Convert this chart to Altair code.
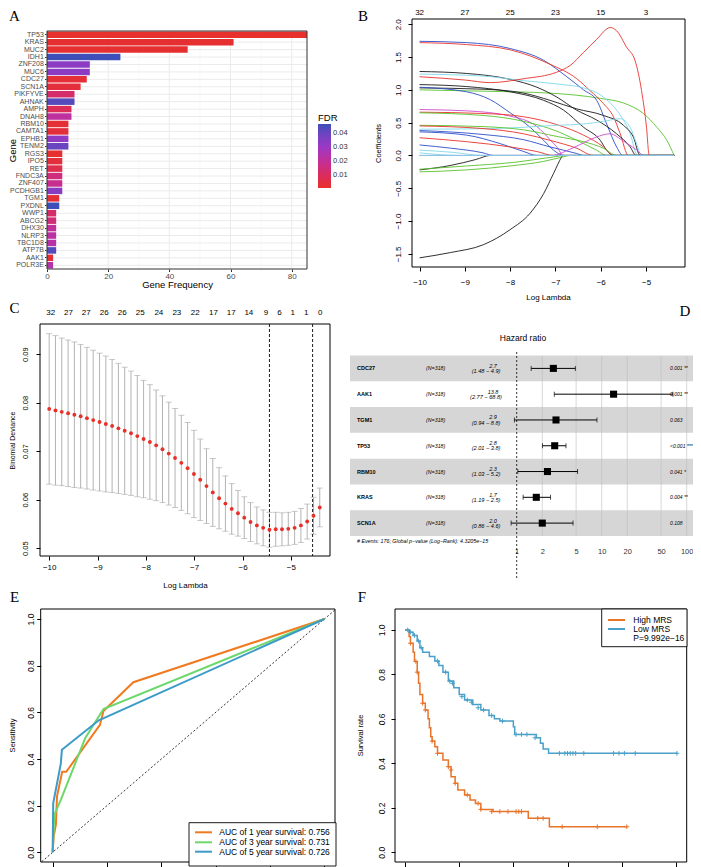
import altair as alt
import pandas as pd

W, H = 685, 859
FONT = "Liberation Sans"
SERIF = "Liberation Serif"


def PX(x):
    return round(x - 8.0, 2)


def PY(y):
    return round(y - 8.0, 2)


# ============================ DATA ============================
# ---- A : mutated genes
genes_A = ["TP53", "KRAS", "MUC2", "IDH1", "ZNF208", "MUC6", "CDC27", "SCN1A", "PIKFYVE", "AHNAK",
           "AMPH", "DNAH8", "RBM10", "CAMTA1", "EPHB1", "TENM2", "RGS3", "IPO5", "RET", "FNDC3A",
           "ZNF407", "PCDHGB1", "TGM1", "PXDNL", "WWP1", "ABCG2", "DHX30", "NLRP3", "TBC1D8", "ATP7B",
           "AAK1", "POLR3E"]
freq_A = [85, 61, 46, 24, 14, 14, 13, 11, 9, 9, 8, 8, 7, 7, 7, 7, 5, 5, 5, 5, 5, 5, 4, 4, 3, 3, 3, 3, 3, 3, 2, 2]
fdr_A = [0.001, 0.002, 0.002, 0.046, 0.033, 0.033, 0.003, 0.004, 0.012, 0.043,
         0.009, 0.021, 0.003, 0.004, 0.032, 0.040, 0.002, 0.004, 0.007, 0.015,
         0.018, 0.034, 0.003, 0.046, 0.012, 0.014, 0.020, 0.022, 0.023, 0.043,
         0.003, 0.024]
fdr_ticks = [0.01, 0.02, 0.03, 0.04]
fdr_stops = [0.0007, 0.01, 0.02, 0.03, 0.04, 0.0464]
fdr_colors = ["#E8302A", "#DA2C5E", "#C22F9A", "#9B38C3", "#6A45C0", "#3C50B8"]
freq_ticks = [0, 20, 40, 60, 80]
freq_minor = [10, 30, 50, 70]

# ---- B : LASSO coefficient paths (log lambda -> coefficient)
B_top_at = [-10, -9, -8, -7, -6, -5]
B_top_lab = ["32", "27", "25", "23", "15", "3"]
B_paths = [
    ("g", [-10, -8.6, -7.12, -6.01, -5.5, -5.06, -4.76, -4.54, -4.38], [1.0, 0.98, 0.95, 0.87, 0.8, 0.64, 0.43, 0.23, 0]),
    ("k", [-10, -9.32, -8.59, -8.0, -7.56, -7.26, -7.04, -6.86, -6.84, -4.38], [-1.56, -1.48, -1.36, -1.13, -0.88, -0.58, -0.27, -0.02, 0, 0]),
    ("b", [-10, -8.96, -8, -7.26, -6.75, -6.38, -6.09, -5.87, -5.65, -5.51, -4.38], [1.74, 1.72, 1.63, 1.45, 1.2, 1.0, 0.84, 0.48, 0.13, 0, 0]),
    ("r", [-10, -8.96, -8, -7.12, -6.53, -6.24, -5.94, -5.72, -5.57, -5.39, -4.38], [1.72, 1.69, 1.61, 1.39, 1.17, 0.99, 0.79, 0.59, 0.33, 0, 0]),
    ("k", [-10, -8.96, -8, -7.41, -6.97, -6.53, -6.09, -5.65, -5.35, -5.22, -4.38], [1.28, 1.25, 1.16, 1.04, 0.89, 0.69, 0.54, 0.33, 0.13, 0, 0]),
    ("c", [-10, -8.6, -7.7, -6.97, -6.38, -5.94, -5.65, -5.35, -5.19, -4.38], [1.24, 1.21, 1.14, 1.09, 1.03, 0.89, 0.69, 0.33, 0, 0]),
    ("k", [-10, -8.96, -8, -7.26, -6.82, -6.38, -6.01, -5.87, -5.72, -4.38], [1.08, 1.05, 0.97, 0.84, 0.69, 0.43, 0.23, 0.08, 0, 0]),
    ("k", [-10, -8.6, -7.7, -7.12, -6.53, -5.94, -5.5, -5.28, -5.13, -4.38], [1.03, 1.01, 0.95, 0.84, 0.71, 0.61, 0.46, 0.28, 0, 0]),
    ("b", [-10, -8.96, -8.44, -8, -7.56, -7.26, -7.04, -6.82, -4.38], [1.04, 0.97, 0.85, 0.65, 0.43, 0.23, 0.08, 0, 0]),
    ("m", [-10, -8.96, -8, -7.41, -7.12, -6.97, -6.82, -4.38], [0.70, 0.68, 0.6, 0.44, 0.24, 0.13, 0, 0]),
    ("r", [-10, -8.6, -7.7, -6.97, -6.38, -5.94, -5.72, -4.38], [0.66, 0.64, 0.59, 0.47, 0.31, 0.13, 0, 0]),
    ("g", [-10, -8.6, -7.7, -6.97, -6.38, -6.09, -5.87, -4.38], [0.65, 0.61, 0.52, 0.37, 0.18, 0.08, 0, 0]),
    ("c", [-10, -8.44, -7.7, -6.97, -6.38, -5.94, -5.57, -5.35, -5.21, -5.1, -4.38], [0.40, 0.41, 0.43, 0.46, 0.48, 0.52, 0.56, 0.43, 0.18, 0, 0]),
    ("g", [-10, -8.6, -7.7, -6.97, -6.38, -5.94, -5.65, -4.38], [0.46, 0.44, 0.39, 0.29, 0.21, 0.11, 0, 0]),
    ("r", [-10, -8.6, -7.7, -7.12, -6.53, -6.16, -4.38], [0.45, 0.41, 0.33, 0.23, 0.11, 0, 0]),
    ("b", [-10, -8.6, -7.7, -7.12, -6.53, -6.38, -4.38], [0.38, 0.32, 0.24, 0.13, 0.03, 0, 0]),
    ("b", [-10, -8.96, -8.22, -7.7, -7.41, -4.38], [0.36, 0.31, 0.18, 0.06, 0, 0]),
    ("m", [-10, -7.1, -6.6, -6.1, -5.8, -5.5, -5.2, -5.05, -4.38], [0, 0, 0.12, 0.28, 0.33, 0.22, 0.08, 0, 0]),
    ("r", [-10, -8.96, -8, -7.41, -7.04, -4.38], [0.27, 0.21, 0.13, 0.06, 0, 0]),
    ("b", [-10, -9.3, -8.6, -8.37, -4.38], [0.16, 0.11, 0.04, 0, 0]),
    ("c", [-10, -9.3, -8.59, -4.38], [0.08, 0.05, 0, 0]),
    ("c", [-10, -9.1, -4.38], [0.04, 0, 0]),
    ("k", [-10, -9.3, -8.75, -8.44, -4.38], [-0.22, -0.15, -0.06, 0, 0]),
    ("g", [-10, -8.96, -7.85, -7.12, -6.75, -4.38], [-0.21, -0.16, -0.10, -0.03, 0, 0]),
    ("g", [-10, -8.96, -8, -7.26, -6.82, -6.68, -4.38], [-0.25, -0.22, -0.16, -0.09, -0.02, 0, 0]),
    ("r", [-10, -9, -8.44, -7.7, -6.97, -6.68, -6.38, -6.09, -5.79, -5.65, -5.43, -5.24, -5.1, -4.99, -4.93, -4.38],
     [1.20, 1.15, 1.11, 1.17, 1.27, 1.37, 1.57, 1.77, 1.95, 1.90, 1.65, 1.44, 0.99, 0.43, 0, 0]),
    ("m", [-10, -4.38], [0, 0]),
    ("c", [-10, -4.38], [0, 0]),
]
B_palette = {"k": "#1A1A1A", "r": "#E8322C", "g": "#58C22C", "b": "#2D4DC8", "c": "#80D8EA", "m": "#CF4ACF"}

# ---- C : cross-validation curve
C_loglam = [-10.000, -9.870, -9.740, -9.609, -9.479, -9.349, -9.219, -9.089, -8.958, -8.828,
            -8.698, -8.568, -8.438, -8.307, -8.177, -8.047, -7.917, -7.787, -7.656, -7.526,
            -7.396, -7.266, -7.136, -7.005, -6.875, -6.745, -6.615, -6.485, -6.354, -6.224,
            -6.094, -5.964, -5.834, -5.703, -5.573, -5.443, -5.313, -5.183, -5.053, -4.922,
            -4.792, -4.662, -4.532, -4.402]
C_mean = [0.0787, 0.0784, 0.0781, 0.0778, 0.0775, 0.0772, 0.0768, 0.0764, 0.0760, 0.0756,
          0.0752, 0.0747, 0.0742, 0.0737, 0.0731, 0.0725, 0.0719, 0.0712, 0.0704, 0.0695,
          0.0686, 0.0676, 0.0665, 0.0653, 0.0641, 0.0628, 0.0615, 0.0603, 0.0592, 0.0581,
          0.0572, 0.0563, 0.0554, 0.0547, 0.0542, 0.0538, 0.0539, 0.0539, 0.0540, 0.0542,
          0.0547, 0.0555, 0.0567, 0.0584]
C_se = [0.0155, 0.0154, 0.0152, 0.0151, 0.0150, 0.0148, 0.0146, 0.0144, 0.0142, 0.0140,
        0.0137, 0.0134, 0.0131, 0.0128, 0.0125, 0.0121, 0.0118, 0.0114, 0.0110, 0.0106,
        0.0102, 0.0098, 0.0094, 0.0090, 0.0084, 0.0077, 0.0070, 0.0063, 0.0057, 0.0052,
        0.0047, 0.0043, 0.0040, 0.0038, 0.0037, 0.0036, 0.0035, 0.0034, 0.0034, 0.0034,
        0.0035, 0.0036, 0.0038, 0.0040]
C_top_at = [-9.966, -9.60, -9.234, -8.862, -8.49, -8.117, -7.731, -7.359, -6.979, -6.60,
            -6.234, -5.869, -5.517, -5.234, -4.959, -4.683, -4.393]
C_top_lab = ["32", "27", "27", "26", "26", "25", "24", "23", "22", "17", "17", "14", "9", "6", "1", "1", "0"]
C_cuts = [-5.443, -4.55]

# ---- D : multivariate Cox forest plot
genes_D = ["CDC27", "AAK1", "TGM1", "TP53", "RBM10", "KRAS", "SCN1A"]
hr_D = [2.7, 13.8, 2.9, 2.8, 2.3, 1.7, 2.0]
lo_D = [1.48, 2.77, 0.94, 2.01, 1.03, 1.19, 0.86]
hi_D = [4.9, 68.8, 8.8, 3.8, 5.2, 2.5, 4.6]
n_D = ["(N=318)"] * 7
hr_txt_D = ["2.7", "13.8", "2.9", "2.8", "2.3", "1.7", "2.0"]
ci_txt_D = ["(1.48 − 4.9)", "(2.77 − 68.8)", "(0.94 − 8.8)", "(2.01 − 3.8)",
            "(1.03 − 5.2)", "(1.19 − 2.5)", "(0.86 − 4.6)"]
p_txt_D = ["0.001 **", "0.001 **", "0.063", "<0.001 ***", "0.041 *", "0.004 **", "0.108"]
D_ticks = [1, 2, 5, 10, 20, 50, 100]
D_grid = [2, 5, 10, 20, 50, 100]
D_footer = "# Events: 176; Global p−value (Log−Rank): 4.3205e−15"

# ---- E : time-dependent ROC
roc_fpr_1y = [0, 0.004, 0.012, 0.016, 0.035, 0.05, 0.174, 0.187, 0.297, 1.0]
roc_tpr_1y = [0, 0.07, 0.12, 0.24, 0.345, 0.345, 0.546, 0.606, 0.729, 1.0]
roc_fpr_3y = [0, 0.006, 0.03, 0.12, 0.187, 1.0]
roc_tpr_3y = [0, 0.16, 0.225, 0.49, 0.614, 1.0]
roc_fpr_5y = [0, 0.002, 0.03, 0.034, 0.17, 1.0]
roc_tpr_5y = [0, 0.21, 0.38, 0.44, 0.566, 1.0]
roc_labels = ["AUC of 1 year survival:  0.756", "AUC of 3 year survival:  0.731", "AUC of 5 year survival:  0.726"]
roc_colors = ["#F07A20", "#6CD86C", "#3D9BC8"]
E_ticks = [0, 0.2, 0.4, 0.6, 0.8, 1.0]

# ---- F : Kaplan-Meier
km_high_t = [0, 0.15, 0.2, 0.3, 0.35, 0.45, 0.5, 0.55, 0.65, 0.75, 0.85, 0.9, 0.95, 1.0, 1.1, 1.2, 1.4,
             1.6, 1.7, 1.85, 1.95, 2.2, 2.4, 2.6, 2.8, 3.25, 4.55, 5.33, 8.19]
km_high_s = [1.0, 0.97, 0.94, 0.9, 0.858, 0.81, 0.76, 0.71, 0.67, 0.64, 0.6, 0.56, 0.52, 0.5, 0.475, 0.445, 0.415,
             0.385, 0.34, 0.31, 0.28, 0.258, 0.235, 0.22, 0.193, 0.183, 0.153, 0.115, 0.115]
km_low_t = [0, 0.15, 0.3, 0.45, 0.55, 0.65, 0.9, 1.1, 1.25, 1.4, 1.6, 1.8, 2.0, 2.2, 2.5, 2.8, 3.1, 3.3,
            3.5, 4.0, 4.05, 4.85, 5.0, 5.1, 5.3, 10.04]
km_low_s = [1.0, 0.99, 0.975, 0.95, 0.92, 0.9, 0.88, 0.86, 0.84, 0.81, 0.77, 0.74, 0.71, 0.685, 0.665, 0.64,
            0.615, 0.6, 0.59, 0.565, 0.53, 0.515, 0.49, 0.465, 0.445, 0.445]
cens_high_t = [0.2, 0.4, 0.45, 0.65, 0.75, 1.0, 1.2, 1.6, 1.7, 1.85, 2.3, 2.7, 2.8, 3.2, 3.5, 3.8, 4.1, 4.2,
               4.3, 4.9, 5.1, 5.8, 7.1, 8.19]
cens_high_s = [0.94, 0.858, 0.81, 0.67, 0.64, 0.5, 0.445, 0.385, 0.37, 0.31, 0.258, 0.22, 0.193, 0.183, 0.183,
               0.183, 0.183, 0.183, 0.183, 0.153, 0.153, 0.115, 0.115, 0.115]
cens_low_t = [0.1, 0.2, 0.35, 0.5, 0.6, 1.2, 1.5, 1.65, 1.75, 2.1, 2.3, 2.45, 2.7, 2.9, 3.2, 3.6, 4.1, 4.3,
              4.5, 4.8, 5.7, 5.9, 6.0, 6.1, 6.2, 6.3, 6.6, 7.7, 7.9, 8.1, 8.5, 10.04]
cens_low_s = [1.0, 0.99, 0.975, 0.95, 0.92, 0.86, 0.81, 0.77, 0.76, 0.7, 0.685, 0.675, 0.65, 0.64, 0.615, 0.59,
              0.53, 0.53, 0.53, 0.515, 0.445, 0.445, 0.445, 0.445, 0.445, 0.445, 0.445, 0.445, 0.445, 0.445,
              0.445, 0.445]
km_labels = ["High MRS", "Low MRS", "P=9.992e−16"]
km_colors = ["#E8742A", "#4AA0C8"]
F_xticks = [0, 2, 4, 6, 8, 10]
F_yticks = [0, 0.2, 0.4, 0.6, 0.8, 1.0]


# ============================ HELPERS ============================
def lin(domain, r0, r1):
    return alt.Scale(domain=domain, range=[r0, r1], nice=False, zero=False)


def r_axis(orient, offset, values, fmt, pad, title, tx, ty, tick=4.0, fs=8, tfs=8, labels=True):
    vertical = orient in ("left", "right")
    return alt.Axis(orient=orient, offset=offset, values=values, format=fmt, grid=False, domain=False,
                    ticks=True, tickSize=tick, tickColor="black", tickWidth=1, labels=labels,
                    labelFont=FONT, labelFontSize=fs, labelColor="black", labelPadding=pad,
                    labelOverlap=False, labelFlush=False, labelBaseline="middle", labelAlign="center",
                    labelAngle=270 if vertical else 0,
                    title=title, titleFont=FONT, titleFontSize=tfs, titleFontWeight="normal",
                    titleColor="black", titleX=tx, titleY=ty, titleAlign="center", titleBaseline="middle",
                    titleAngle=270 if vertical else 0)


def frame(xf, yf, dx, dy, color="black", width=1.0):
    df = pd.DataFrame({"x0": [dx[0]], "x1": [dx[1]], "y0": [dy[0]], "y1": [dy[1]]})
    return alt.Chart(df).mark_rect(filled=False, stroke=color, strokeWidth=width).encode(
        x=xf("x0"), x2="x1:Q", y=yf("y0"), y2="y1:Q")


# ============================ PANEL A ============================
A_xscale = lin([0, 85], PX(47), PX(307))
A_yscale = alt.Scale(domain=genes_A, range=[PY(31), PY(269)], paddingInner=0.12, paddingOuter=0.06)
A_xaxis = alt.Axis(orient="bottom", offset=PY(269) - H, values=freq_ticks, format="d", grid=False, domain=False,
                   tickSize=2.5, tickColor="#333333", labelFont=FONT, labelFontSize=8, labelColor="#4D4D4D",
                   labelPadding=PY(276) - PY(269) - 2.5, labelBaseline="middle", labelFlush=False,
                   labelOverlap=False, title="Gene Frequency", titleFont=FONT, titleFontSize=9.5,
                   titleFontWeight="normal", titleColor="black", titleX=PX(177), titleY=PY(284.5) - PY(269),
                   titleAlign="center", titleBaseline="middle")
A_yaxis = alt.Axis(orient="left", offset=-PX(47), grid=False, domain=False, tickSize=2.5, tickColor="#333333",
                   labelFont=FONT, labelFontSize=7, labelColor="#4D4D4D", labelPadding=1.2, labelOverlap=False,
                   labelLimit=200, title="Gene", titleFont=FONT, titleFontSize=9.5, titleFontWeight="normal",
                   titleColor="black", titleAngle=270, titleX=4.5 - PX(47), titleY=PY(150),
                   titleAlign="center", titleBaseline="middle")


def AX(f):
    return alt.X(f"{f}:Q", scale=A_xscale, axis=A_xaxis)


def AY(f):
    return alt.Y(f"{f}:N", scale=A_yscale, axis=A_yaxis)


dfA = pd.DataFrame({"gene": genes_A, "freq": freq_A, "fdr": fdr_A})
A_color = alt.Color("fdr:Q", scale=alt.Scale(domain=fdr_stops, range=fdr_colors, interpolate="rgb"),
                    legend=alt.Legend(orient="none", legendX=PX(318), legendY=PY(112.5), direction="vertical",
                                      title="FDR", titleFont=FONT, titleFontSize=9.5, titleFontWeight="normal",
                                      titleColor="black", titlePadding=2, gradientLength=64,
                                      gradientThickness=13, gradientStrokeWidth=0, values=fdr_ticks,
                                      format=".2f", labelFont=FONT, labelFontSize=7.5, labelColor="#333333",
                                      labelOffset=2, labelOverlap=False))
a_minor = alt.Chart(pd.DataFrame({"g": freq_minor})).mark_rule(color="#F3F3F3", strokeWidth=0.6).encode(
    x=AX("g"), y=alt.value(PY(31)), y2=alt.value(PY(269)))
a_major = alt.Chart(pd.DataFrame({"g": freq_ticks})).mark_rule(color="#EBEBEB", strokeWidth=1).encode(
    x=AX("g"), y=alt.value(PY(31)), y2=alt.value(PY(269)))
a_hgrid = alt.Chart(dfA).mark_rule(color="#EBEBEB", strokeWidth=1).encode(
    y=AY("gene"), x=alt.value(PX(47)), x2=alt.value(PX(307)))
a_bars = alt.Chart(dfA).mark_bar().encode(x=AX("freq"), y=AY("gene"), color=A_color)
a_frame = alt.Chart(pd.DataFrame({"z": [0]})).mark_rect(filled=False, stroke="#333333", strokeWidth=1).encode(
    x=alt.value(PX(47)), x2=alt.value(PX(307)), y=alt.value(PY(31)), y2=alt.value(PY(269)))
panel_A = alt.layer(a_minor, a_major, a_hgrid, a_bars, a_frame)

# ============================ PANEL B ============================
B_dx = [-10.168, -4.14]
B_dy = [-1.70, 2.08]
B_xscale = lin(B_dx, PX(412), PX(685))
B_yscale = lin(B_dy, PY(267), PY(19))
B_xaxis = r_axis("bottom", PY(267) - H, [-10, -9, -8, -7, -6, -5], "d", PY(282) - PY(267) - 4,
                 "Log Lambda", PX(548), PY(297) - PY(267))
B_yaxis = r_axis("left", -PX(412), [-1.5, -1.0, -0.5, 0.0, 0.5, 1.0, 1.5, 2.0], ".1f", PX(412) - PX(398) - 4,
                 "Coefficients", PX(378) - PX(412), PY(143), tfs=7.5)


def BX(f):
    return alt.X(f"{f}:Q", scale=B_xscale, axis=B_xaxis)


def BY(f):
    return alt.Y(f"{f}:Q", scale=B_yscale, axis=B_yaxis)


rows = []
for i, (ck, xs, ys) in enumerate(B_paths):
    for j, (xv, yv) in enumerate(zip(xs, ys)):
        rows.append({"cid": i, "x": xv, "y": yv, "col": B_palette[ck], "ord": j})
dfB = pd.DataFrame(rows)
b_lines = alt.Chart(dfB).mark_line(strokeWidth=0.9, interpolate="monotone").encode(
    x=BX("x"), y=BY("y"), detail="cid:N", color=alt.Color("col:N", scale=None), order="ord:Q")
b_top = alt.Chart(pd.DataFrame({"x": B_top_at, "lab": B_top_lab})).mark_text(
    font=FONT, fontSize=8, baseline="middle", align="center", color="black").encode(
    x=BX("x"), y=alt.value(4.5), text="lab:N")
panel_B = alt.layer(b_lines, b_top, frame(BX, BY, B_dx, B_dy))

# ============================ PANEL C ============================
C_dx = [-10.19, -4.19]
C_dy = [0.0484, 0.0962]
C_xscale = lin(C_dx, PX(40), PX(330))
C_yscale = lin(C_dy, PY(556), PY(324))
C_xaxis = r_axis("bottom", PY(556) - H, [-10, -9, -8, -7, -6, -5], "d", PY(567) - PY(556) - 4,
                 "Log Lambda", PX(185), PY(585) - PY(556))
C_yaxis = r_axis("left", -PX(40), [0.05, 0.06, 0.07, 0.08, 0.09], ".2f", PX(40) - PX(25) - 4,
                 "Binomial Deviance", 4.0 - PX(40), PY(440), fs=7.5, tfs=7)


def CX(f):
    return alt.X(f"{f}:Q", scale=C_xscale, axis=C_xaxis)


def CY(f):
    return alt.Y(f"{f}:Q", scale=C_yscale, axis=C_yaxis)


dfC = pd.DataFrame({"x": C_loglam, "mean": C_mean, "se": C_se})
dfC["lo"] = dfC["mean"] - dfC["se"]
dfC["hi"] = dfC["mean"] + dfC["se"]
c_bars = alt.Chart(dfC).mark_rule(color="#AAAAAA", strokeWidth=0.9).encode(x=CX("x"), y=CY("lo"), y2="hi:Q")
c_capu = alt.Chart(dfC).mark_tick(orient="horizontal", size=6, thickness=0.9, color="#AAAAAA").encode(
    x=CX("x"), y=CY("hi"))
c_capl = alt.Chart(dfC).mark_tick(orient="horizontal", size=6, thickness=0.9, color="#AAAAAA").encode(
    x=CX("x"), y=CY("lo"))
c_dots = alt.Chart(dfC).mark_circle(size=15, color="#E8302A", opacity=1).encode(x=CX("x"), y=CY("mean"))
c_cut = alt.Chart(pd.DataFrame({"v": C_cuts})).mark_rule(color="black", strokeWidth=0.9, strokeDash=[3, 2]).encode(
    x=CX("v"), y=alt.value(PY(324)), y2=alt.value(PY(556)))
c_top = alt.Chart(pd.DataFrame({"x": C_top_at, "lab": C_top_lab})).mark_text(
    font=FONT, fontSize=8, baseline="middle", align="center", color="black").encode(
    x=CX("x"), y=alt.value(PY(313)), text="lab:N")
panel_C = alt.layer(c_bars, c_capu, c_capl, c_cut, c_dots, c_top, frame(CX, CY, C_dx, C_dy))

# ============================ PANEL D ============================
D_xscale = alt.Scale(type="log", domain=[1, 100], range=[PX(516.7), PX(686.7)], nice=False)
D_yscale = alt.Scale(domain=genes_D, range=[PY(355.5), PY(536)], paddingInner=0, paddingOuter=0)
D_xaxis = alt.Axis(orient="bottom", offset=PY(545) - H, values=D_ticks, format="d", grid=False, domain=False,
                   ticks=False, tickSize=0, labelFont=FONT, labelFontSize=7.5, labelColor="#333333",
                   labelPadding=PY(551) - PY(545), labelBaseline="middle", labelFlush=False, labelOverlap=False,
                   title=None)


def DX(f):
    return alt.X(f"{f}:Q", scale=D_xscale, axis=D_xaxis)


def DY(f):
    return alt.Y(f"{f}:N", scale=D_yscale, axis=None)


dfD = pd.DataFrame({"gene": genes_D, "hr": hr_D, "lo": lo_D, "hi": hi_D, "n": n_D,
                    "hrt": hr_txt_D, "cit": ci_txt_D, "pt": p_txt_D})
dfD_gray = dfD.iloc[[0, 2, 4, 6]]
d_band = alt.Chart(dfD_gray).mark_rect(color="#D6D6D6").encode(
    y=DY("gene"), x=alt.value(PX(350)), x2=alt.value(W))
d_grid = alt.Chart(pd.DataFrame({"v": D_grid})).mark_rule(color="#BDBDBD", strokeWidth=0.6).encode(
    x=DX("v"), y=alt.value(PY(356)), y2=alt.value(PY(536)))
d_one = alt.Chart(pd.DataFrame({"v": [1]})).mark_rule(color="black", strokeWidth=0.8, strokeDash=[2, 2]).encode(
    x=DX("v"), y=alt.value(PY(352)), y2=alt.value(PY(578)))
d_ci = alt.Chart(dfD).mark_rule(color="black", strokeWidth=1).encode(x=DX("lo"), x2="hi:Q", y=DY("gene"))
d_cl = alt.Chart(dfD).mark_tick(orient="vertical", size=5, thickness=1, color="black").encode(x=DX("lo"), y=DY("gene"))
d_ch = alt.Chart(dfD).mark_tick(orient="vertical", size=5, thickness=1, color="black").encode(x=DX("hi"), y=DY("gene"))
d_sq = alt.Chart(dfD).mark_square(size=50, color="black", opacity=1).encode(x=DX("hr"), y=DY("gene"))
d_gene = alt.Chart(dfD).mark_text(font=FONT, fontSize=5.5, fontWeight="bold", align="left", baseline="middle").encode(
    x=alt.value(PX(357)), y=DY("gene"), text="gene:N")
d_n = alt.Chart(dfD).mark_text(font=FONT, fontSize=5.3, fontStyle="italic", align="left", baseline="middle").encode(
    x=alt.value(PX(426)), y=DY("gene"), text="n:N")
d_hr = alt.Chart(dfD).mark_text(font=FONT, fontSize=5.5, fontStyle="italic", align="center", baseline="middle",
                                dy=-2.6).encode(x=alt.value(PX(493)), y=DY("gene"), text="hrt:N")
d_cit = alt.Chart(dfD).mark_text(font=FONT, fontSize=5.6, fontStyle="italic", align="center", baseline="middle",
                                 dy=2.6).encode(x=alt.value(PX(486)), y=DY("gene"), text="cit:N")
d_p = alt.Chart(dfD).mark_text(font=FONT, fontSize=5.0, fontStyle="italic", align="left", baseline="middle").encode(
    x=alt.value(PX(670)), y=DY("gene"), text="pt:N")
panel_D = alt.layer(d_band, d_grid, d_one, d_ci, d_cl, d_ch, d_sq, d_gene, d_n, d_hr, d_cit, d_p)

# ============================ PANEL E ============================
E_dx = [-0.044, 1.039]
E_dy = [-0.0416, 1.043]
E_xscale = lin(E_dx, PX(40.7), PX(335))
E_yscale = lin(E_dy, PY(862), PY(609))
E_xaxis = r_axis("bottom", PY(862) - H, E_ticks, ".1f", 4, None, PX(188), 30, tick=5, labels=False)
E_yaxis = r_axis("left", -PX(40.7), E_ticks, ".1f", PX(40.7) - PX(30) - 4.5,
                 "Sensitivity", 4.5 - PX(40.7), PY(735), fs=8.5, tfs=7.5)


def EX(f):
    return alt.X(f"{f}:Q", scale=E_xscale, axis=E_xaxis)


def EY(f):
    return alt.Y(f"{f}:Q", scale=E_yscale, axis=E_yaxis)


e_diag = alt.Chart(pd.DataFrame({"x": [-0.04, 1.039], "y": [-0.04, 1.039]})).mark_line(
    color="black", strokeWidth=0.8, strokeDash=[2, 2]).encode(x=EX("x"), y=EY("y"))
e_layers = []
for fpr, tpr, col in [(roc_fpr_1y, roc_tpr_1y, roc_colors[0]), (roc_fpr_3y, roc_tpr_3y, roc_colors[1]),
                      (roc_fpr_5y, roc_tpr_5y, roc_colors[2])]:
    dfr = pd.DataFrame({"x": fpr, "y": tpr, "o": list(range(len(fpr)))})
    e_layers.append(alt.Chart(dfr).mark_line(color=col, strokeWidth=2).encode(x=EX("x"), y=EY("y"), order="o:Q"))
panel_E = alt.layer(e_diag, *e_layers, frame(EX, EY, E_dx, E_dy))

# ============================ PANEL F ============================
F_dx = [-0.37, 10.4]
F_dy = [-0.0436, 1.094]
F_xscale = lin(F_dx, PX(395), PX(686.7))
F_yscale = lin(F_dy, PY(862), PY(609))
F_xaxis = r_axis("bottom", PY(862) - H, F_xticks, "d", 4, None, PX(540), 30, tick=5, labels=False)
F_yaxis = r_axis("left", -PX(395), F_yticks, ".1f", PX(395) - PX(381.7) - 4,
                 "Survival rate", PX(360) - PX(395), PY(735), fs=8.5, tfs=7.5)


def FX(f):
    return alt.X(f"{f}:Q", scale=F_xscale, axis=F_xaxis)


def FY(f):
    return alt.Y(f"{f}:Q", scale=F_yscale, axis=F_yaxis)


plus = "M-1,0L1,0M0,-1L0,1"
f_layers = []
for t, s, ct, cs, col in [(km_high_t, km_high_s, cens_high_t, cens_high_s, km_colors[0]),
                          (km_low_t, km_low_s, cens_low_t, cens_low_s, km_colors[1])]:
    f_layers.append(alt.Chart(pd.DataFrame({"t": t, "s": s})).mark_line(
        color=col, strokeWidth=1.5, interpolate="step-after").encode(x=FX("t"), y=FY("s")))
    f_layers.append(alt.Chart(pd.DataFrame({"t": ct, "s": cs})).mark_point(
        shape=plus, filled=False, size=22, strokeWidth=1, color=col, opacity=1).encode(x=FX("t"), y=FY("s")))
panel_F = alt.layer(*f_layers, frame(FX, FY, F_dx, F_dy))

# ============================ ANNOTATIONS ============================
IX = lambda f: alt.X(f"{f}:Q", scale=None, axis=None)
IY = lambda f: alt.Y(f"{f}:Q", scale=None, axis=None)

boxes = pd.DataFrame({"x0": [PX(189), PX(601.7)], "x1": [PX(336), PX(687)],
                      "y0": [PY(822.7), PY(609)], "y1": [PY(866), PY(646.7)]})
g_box = alt.Chart(boxes).mark_rect(fill="white", stroke="black", strokeWidth=0.9).encode(
    x=IX("x0"), x2="x1:Q", y=IY("y0"), y2="y1:Q")

e_rows = [832.3, 842.3, 851.7]
leg_lines = pd.DataFrame({
    "x0": [PX(195)] * 3 + [PX(608)] * 2,
    "x1": [PX(212)] * 3 + [PX(625)] * 2,
    "y": [PY(v) for v in e_rows] + [PY(620), PY(629)],
    "col": roc_colors + km_colors})
g_lines = alt.Chart(leg_lines).mark_rule(strokeWidth=2).encode(
    x=IX("x0"), x2="x1:Q", y=IY("y"), color=alt.Color("col:N", scale=None))
leg_text = pd.DataFrame({
    "x": [PX(219.3)] * 3 + [PX(633.3)] * 3,
    "y": [PY(v) for v in e_rows] + [PY(620), PY(629), PY(638.3)],
    "t": roc_labels + km_labels})
g_text = alt.Chart(leg_text).mark_text(font=FONT, fontSize=8.5, align="left", baseline="middle", color="black").encode(
    x=IX("x"), y=IY("y"), text="t:N")

letters = pd.DataFrame({"x": [6.5, PX(363), 6.5, 677.0, 6.5, PX(362)],
                        "y": [7.5, 7.5, PY(308), PY(311), PY(597), PY(597)],
                        "t": ["A", "B", "C", "D", "E", "F"]})
g_letters = alt.Chart(letters).mark_text(font=SERIF, fontSize=15, align="center", baseline="middle",
                                         color="black").encode(x=IX("x"), y=IY("y"), text="t:N")
d_titles = pd.DataFrame({"x": [PX(523)], "y": [PY(338)], "t": ["Hazard ratio"]})
g_dtitle = alt.Chart(d_titles).mark_text(font=FONT, fontSize=8.5, align="center", baseline="middle",
                                         color="black").encode(x=IX("x"), y=IY("y"), text="t:N")
d_foot = pd.DataFrame({"x": [PX(357)], "y": [PY(541)], "t": [D_footer]})
g_dfoot = alt.Chart(d_foot).mark_text(font=FONT, fontSize=5.3, fontStyle="italic", align="left",
                                      baseline="middle", color="black").encode(x=IX("x"), y=IY("y"), text="t:N")
annot = alt.layer(g_box, g_lines, g_text, g_letters, g_dtitle, g_dfoot)

# ============================ ASSEMBLY ============================
chart = alt.layer(panel_A, panel_B, panel_C, panel_D, panel_E, panel_F, annot).resolve_scale(
    x="independent", y="independent", color="independent"
).properties(
    width=W, height=H, padding=0, autosize=alt.AutoSizeParams(type="none"), background="white"
).configure(font=FONT).configure_view(strokeWidth=0)

chart.save("out.html", embed_options={"renderer": "svg", "actions": False})
